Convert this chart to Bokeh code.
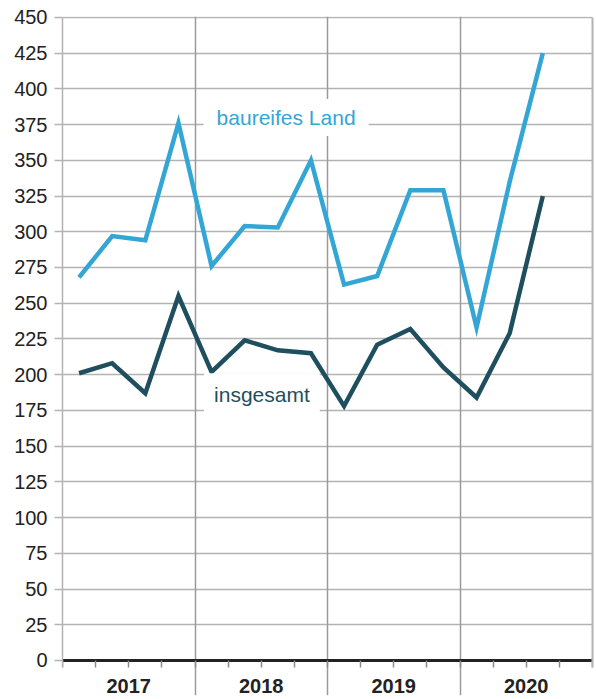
from bokeh.plotting import figure
from bokeh.models import (Range1d, FixedTicker, LinearAxis, Label, Grid)
from bokeh.embed import file_html
from bokeh.resources import INLINE

# ---- data ----
years = ["2017", "2018", "2019", "2020"]
quarter_pos = [0.5, 1.5, 2.5, 3.5, 4.5, 5.5, 6.5, 7.5,
               8.5, 9.5, 10.5, 11.5, 12.5, 13.5, 14.5]
baureifes_land = [268, 297, 294, 376, 276, 304, 303, 350,
                  263, 269, 329, 329, 233, 335, 425]
insgesamt = [201, 208, 187, 255, 202, 224, 217, 215,
             178, 221, 232, 205, 184, 229, 325]
y_ticks = list(range(0, 451, 25))
year_centers = [2, 6, 10, 14]
year_bounds = [4, 8, 12]
quarter_bounds = list(range(0, 17))

BLUE = "#33a6d6"
DARK = "#1f4f5e"
GRID = "#b3b3b3"
FONT = "Liberation Sans"

p = figure(width=596, height=699, output_backend="svg", toolbar_location=None,
           x_range=Range1d(0, 16), y_range=Range1d(-24.5, 450.6),
           min_border_left=62, min_border_right=4, min_border_top=16,
           min_border_bottom=4, x_axis_type=None, y_axis_type=None)
p.outline_line_color = None
p.background_fill_color = "white"

# y axis (left)
yaxis = LinearAxis(ticker=FixedTicker(ticks=y_ticks), bounds=(-5, 450))
yaxis.axis_line_color = GRID
yaxis.axis_line_width = 1.5
yaxis.major_tick_line_color = GRID
yaxis.major_tick_line_width = 1.5
yaxis.major_tick_out = 8
yaxis.major_tick_in = 0
yaxis.minor_tick_line_color = None
yaxis.major_label_standoff = 7
yaxis.major_label_text_font = FONT
yaxis.major_label_text_font_size = "20px"
yaxis.major_label_text_color = "#222222"
p.add_layout(yaxis, "left")

# right frame edge
raxis = LinearAxis(ticker=FixedTicker(ticks=[]), bounds=(-5, 450))
raxis.axis_line_color = GRID
raxis.axis_line_width = 2
raxis.major_tick_line_color = None
raxis.minor_tick_line_color = None
raxis.major_label_text_font_size = "0px"
p.add_layout(raxis, "right")

# grids
p.add_layout(Grid(dimension=1, ticker=FixedTicker(ticks=y_ticks),
                  grid_line_color=GRID, grid_line_width=1.5))
p.add_layout(Grid(dimension=0, ticker=FixedTicker(ticks=year_bounds),
                  grid_line_color="#9a9a9a", grid_line_width=1.5))

p.line(quarter_pos, baureifes_land, line_color=BLUE, line_width=4.5,
       line_join="miter")
p.line(quarter_pos, insgesamt, line_color=DARK, line_width=4.5,
       line_join="miter")

# x axis at y=0 with year labels
xaxis = LinearAxis(ticker=FixedTicker(ticks=year_centers, minor_ticks=quarter_bounds),
                   fixed_location=0)
xaxis.major_label_overrides = {c: y for c, y in zip(year_centers, years)}
xaxis.axis_line_color = "#222222"
xaxis.axis_line_width = 3
xaxis.major_tick_line_color = None
xaxis.minor_tick_line_color = "#8a8a8a"
xaxis.minor_tick_line_width = 1.5
xaxis.minor_tick_out = 7
xaxis.minor_tick_in = 0
xaxis.major_label_standoff = 12
xaxis.major_label_text_font = FONT
xaxis.major_label_text_font_style = "bold"
xaxis.major_label_text_font_size = "20px"
xaxis.major_label_text_color = "#222222"
p.add_layout(xaxis, "below")

p.add_layout(Label(x=6.75, y=380, text="baureifes Land", text_color=BLUE,
                   text_font=FONT, text_font_size="21px", text_align="center",
                   text_baseline="middle", background_fill_color="white",
                   padding=(13, 7)))
p.add_layout(Label(x=6.02, y=186, text="insgesamt", text_color=DARK,
                   text_font=FONT, text_font_size="21px", text_align="center",
                   text_baseline="middle", background_fill_color="white",
                   padding=(10, 10)))

open("out.html", "w").write(file_html(p, INLINE))
